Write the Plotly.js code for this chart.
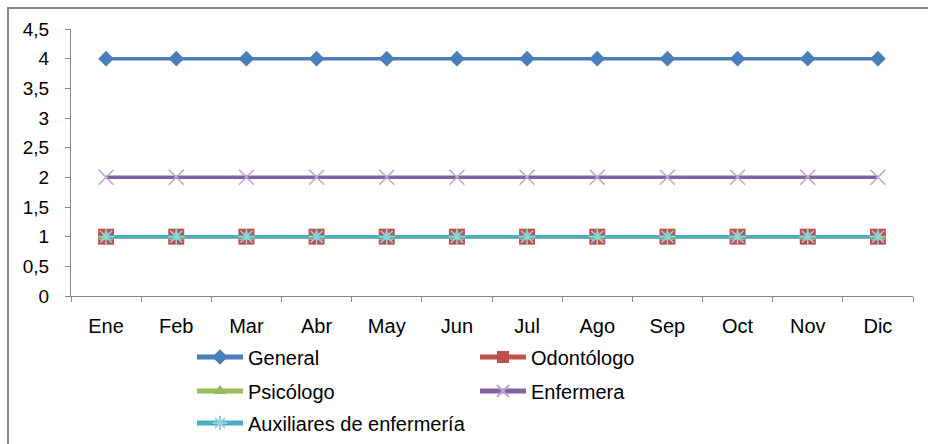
<!DOCTYPE html>
<html>
<head>
<meta charset="utf-8">
<script src="https://cdn.plot.ly/plotly-3.0.1.min.js"></script>
<style>
  html, body { margin: 0; padding: 0; background: #ffffff; }
  #chart { width: 928px; height: 444px; position: relative; }
  #frame { position: absolute; left: 7px; top: 7px; width: 2000px; height: 2000px;
           border-top: 2px solid #8a8a8a; border-left: 2px solid #8a8a8a; pointer-events: none; }
  #wrap { position: relative; width: 928px; height: 444px; overflow: hidden; }
</style>
</head>
<body>
<div id="wrap">
  <div id="chart"></div>
  <div id="frame"></div>
</div>
<script>
const months = ["Ene", "Feb", "Mar", "Abr", "May", "Jun", "Jul", "Ago", "Sep", "Oct", "Nov", "Dic"];
const general      = [4, 4, 4, 4, 4, 4, 4, 4, 4, 4, 4, 4];
const odontologo   = [1, 1, 1, 1, 1, 1, 1, 1, 1, 1, 1, 1];
const psicologo    = [1, 1, 1, 1, 1, 1, 1, 1, 1, 1, 1, 1];
const enfermera    = [2, 2, 2, 2, 2, 2, 2, 2, 2, 2, 2, 2];
const auxiliares   = [1, 1, 1, 1, 1, 1, 1, 1, 1, 1, 1, 1];
const seriesNames  = ["General", "Odontólogo", "Psicólogo", "Enfermera", "Auxiliares de enfermería"];
const yTicks = [0, 0.5, 1, 1.5, 2, 2.5, 3, 3.5, 4, 4.5];

const FONT = "Liberation Sans, Arial, sans-serif";
const traces = [
  { name: seriesNames[0], y: general, legend: "legend",
    line: { color: "#4A7EBB", width: 3.5 },
    marker: { symbol: "diamond", size: 12, color: "#4A7EBB" } },
  { name: seriesNames[1], y: odontologo, legend: "legend2",
    line: { color: "#C0504D", width: 3.5 },
    marker: { symbol: "square", size: 16, color: "#C0504D" } },
  { name: seriesNames[2], y: psicologo, legend: "legend3",
    line: { color: "#9BBB59", width: 3.5 },
    marker: { symbol: "triangle-up", size: 13, color: "#9BBB59" } },
  { name: seriesNames[3], y: enfermera, legend: "legend4",
    line: { color: "#8064A2", width: 3.5 },
    marker: { symbol: "x-thin-open", size: 15, color: "#B7A6CF", line: { width: 1.5, color: "#B7A6CF" } } },
  { name: seriesNames[4], y: auxiliares, legend: "legend5",
    line: { color: "#4BACC6", width: 3.5 },
    marker: { symbol: "asterisk-open", size: 14, color: "#93D2E4", line: { width: 1.5, color: "#93D2E4" } } }
].map(t => Object.assign({ type: "scatter", mode: "lines+markers", x: months, hoverinfo: "skip" }, t));

const L = 71, R = 15, T = 29, B = 148;
const W = 928 - L - R, H = 444 - T - B;
const px = x => (x - L) / W;
const py = y => (444 - B - y) / H;

function leg(xPix, yPix) {
  return { x: px(xPix), y: py(yPix), xanchor: "left", yanchor: "middle",
           orientation: "h", itemwidth: 46, itemsizing: "constant", bgcolor: "rgba(0,0,0,0)",
           font: { family: FONT, size: 20, color: "#000" } };
}

const layout = {
  width: 928, height: 444,
  margin: { l: L, r: R, t: T, b: B, pad: 0, autoexpand: false },
  paper_bgcolor: "rgba(0,0,0,0)", plot_bgcolor: "rgba(0,0,0,0)",
  separators: ",.",
  font: { family: FONT, size: 20, color: "#000" },
  showlegend: true,
  xaxis: {
    type: "category", tickson: "boundaries", ticks: "outside", ticklen: 5,
    tickcolor: "#868686", showline: true, linecolor: "#868686", linewidth: 1,
    showgrid: false, zeroline: false, range: [-0.5, 11.5], automargin: false,
    tickfont: { family: FONT, size: 20, color: "#000" }, ticklabelstandoff: 12
  },
  yaxis: {
    range: [0, 4.5], tickvals: yTicks, ticks: "outside", ticklen: 5,
    tickcolor: "#868686", showline: true, linecolor: "#868686", linewidth: 1,
    showgrid: false, zeroline: false, automargin: false,
    tickfont: { family: FONT, size: 19, color: "#000" }, ticklabelstandoff: 12
  },
  legend:  leg(192, 357),
  legend2: leg(475, 357),
  legend3: leg(192, 391),
  legend4: leg(475, 391),
  legend5: leg(192, 423)
};

Plotly.newPlot("chart", traces, layout, { displayModeBar: false, staticPlot: true });
</script>
</body>
</html>
